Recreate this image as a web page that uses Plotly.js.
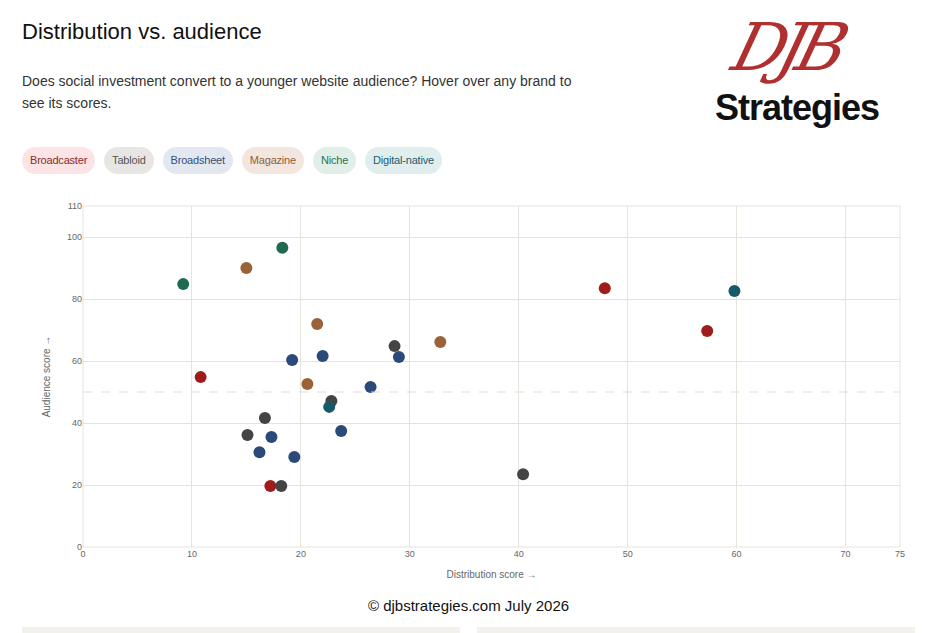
<!DOCTYPE html>
<html><head><meta charset="utf-8">
<script src="https://cdn.plot.ly/plotly-3.0.1.min.js"></script>
<style>
body{margin:0;background:#fff;font-family:"Liberation Sans",Arial,sans-serif;width:937px;height:633px;overflow:hidden;position:relative}
h1{position:absolute;left:22px;top:19px;margin:0;font-weight:400;font-size:22px;color:#111}
.sub{position:absolute;left:22px;top:70px;width:560px;font-size:14px;line-height:22px;color:#333}
.pills{position:absolute;left:22px;top:147px;display:flex;gap:9px}
.pill{height:27px;line-height:27px;padding:0 8px;border-radius:14px;font-size:11px;letter-spacing:-0.2px}
.logo{position:absolute;left:715px;top:6px;width:205px;height:125px}
.djb{position:absolute;left:20px;top:2px;font-family:"DejaVu Serif",serif;font-style:italic;font-size:66px;line-height:80px;color:#b03030;letter-spacing:-8px;transform:skewX(-15deg)}
.str{position:absolute;left:0;top:82px;font-weight:700;font-size:36px;line-height:40px;color:#111;letter-spacing:-1px}
#chart{position:absolute;left:0;top:195px;width:937px;height:395px}
.foot{position:absolute;left:0;width:937px;top:597px;text-align:center;font-size:15px;color:#111}
.card{position:absolute;top:627px;height:10px;background:#f3f1ec}
</style></head><body>
<h1>Distribution vs. audience</h1>
<div class="sub">Does social investment convert to a younger website audience? Hover over any brand to see its scores.</div>
<div class="pills" id="pills"></div>
<div class="logo"><div class="djb">DJB</div><div class="str">Strategies</div></div>
<div id="chart"></div>
<div class="foot">© djbstrategies.com July 2026</div>
<div class="card" style="left:22px;width:438px"></div>
<div class="card" style="left:477px;width:438px"></div>
<script>
const categories=["Broadcaster","Tabloid","Broadsheet","Magazine","Niche","Digital-native"];
const colors=["#a01c1c","#444444","#2b4a7a","#9a6238","#1f6b50","#165a6a"];
const textColors=["#8a2a2a","#555555","#34507a","#8a6040","#2f7050","#2a5a68"];
const pillBg=["#fbe3e6","#e8e6e3","#e3e8f0","#f3e6de","#e2efe8","#e0eeee"];
const broadcasterX=[10.8,17.2,47.9,57.3], broadcasterY=[54.8,19.7,83.5,69.7];
const tabloidX=[15.1,16.7,18.2,22.8,28.6,40.4], tabloidY=[36.1,41.6,19.7,47.1,64.8,23.5];
const broadsheetX=[19.2,22.0,29.0,26.4,17.3,16.2,19.4,23.7], broadsheetY=[60.3,61.6,61.3,51.6,35.5,30.6,29.0,37.4];
const magazineX=[15.0,21.5,20.6,32.8], magazineY=[90.0,71.9,52.6,66.1];
const nicheX=[9.2,18.3], nicheY=[84.8,96.5];
const digitalX=[22.6,59.8], digitalY=[45.2,82.6];
const xs=[broadcasterX,tabloidX,broadsheetX,magazineX,nicheX,digitalX];
const ys=[broadcasterY,tabloidY,broadsheetY,magazineY,nicheY,digitalY];
const xTicks=[0,10,20,30,40,50,60,70,75];
const yTicks=[0,20,40,60,80,100,110];
const pills=document.getElementById('pills');
categories.forEach((c,i)=>{const d=document.createElement('div');d.className='pill';d.textContent=c;d.style.background=pillBg[i];d.style.color=textColors[i];pills.appendChild(d);});
const traces=categories.map((c,i)=>({type:'scatter',mode:'markers',name:c,x:xs[i],y:ys[i],marker:{size:12,color:colors[i]}}));
const ax={showline:false,zeroline:false,gridcolor:'#e6e3dc',tickfont:{size:9,color:'#666'},tickmode:'array',ticks:'',fixedrange:true};
Plotly.newPlot('chart',traces,{
 showlegend:false,paper_bgcolor:'#fff',plot_bgcolor:'#fff',
 font:{family:'"Liberation Sans",Arial,sans-serif',color:'#666'},
 margin:{l:83,r:37,t:11,b:43},
 xaxis:Object.assign({},ax,{range:[0,75],tickvals:xTicks,title:{text:'Distribution score →',font:{size:10,color:'#666'},standoff:12}}),
 yaxis:Object.assign({},ax,{range:[0,110],tickvals:yTicks,title:{text:'Audience score →',font:{size:10,color:'#666'},standoff:14}}),
 shapes:[{type:'line',xref:'paper',x0:0,x1:1,y0:50,y1:50,line:{color:'#e0ddd6',width:1,dash:'dash'}},
  {type:'rect',xref:'paper',yref:'paper',x0:0,x1:1,y0:0,y1:1,line:{color:'#e6e3dc',width:1}}]
},{displayModeBar:false});
</script></body></html>
